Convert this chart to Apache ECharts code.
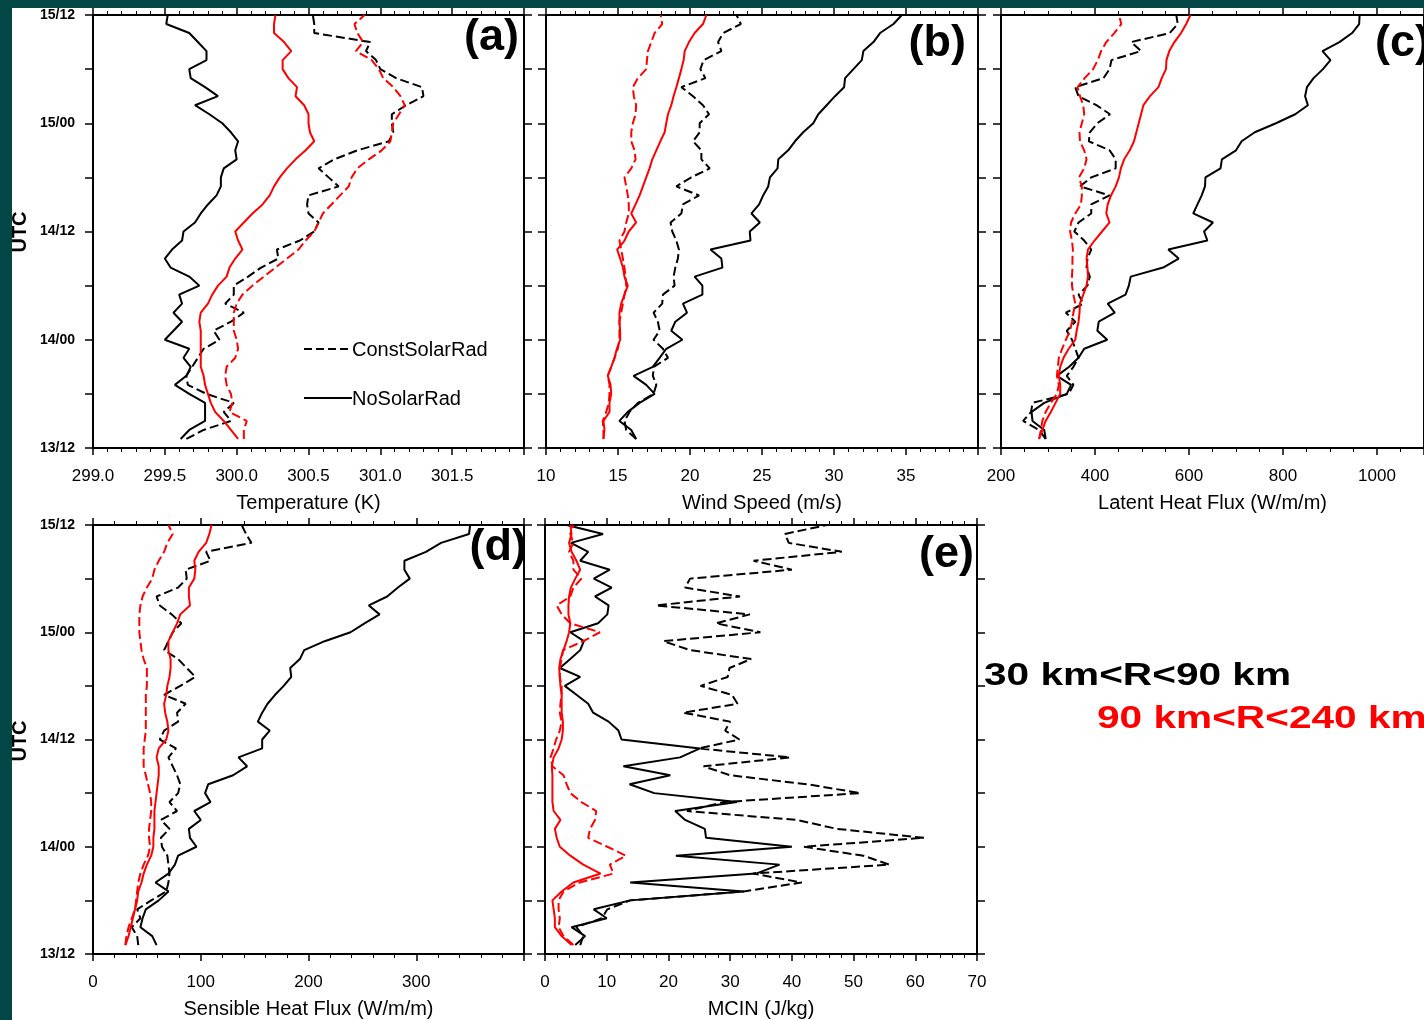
<!DOCTYPE html>
<html>
<head>
<meta charset="utf-8">
<title>Radial-band time series: NoSolarRad vs ConstSolarRad</title>
<script src="https://cdn.jsdelivr.net/npm/echarts@6/dist/echarts.min.js"></script>
<style>
  html, body { margin: 0; padding: 0; background: #ffffff; }
  #chart { width: 1424px; height: 1020px; }
</style>
</head>
<body>
<div id="chart"></div>
<script>
// ---- time axis (hours after 13/12 UTC) ----
const hours = [1, 2, 3, 4, 5, 6, 7, 8, 9, 10, 11, 12, 13, 14, 15, 16, 17, 18, 19, 20, 21, 22, 23, 24,
               25, 26, 27, 28, 29, 30, 31, 32, 33, 34, 35, 36, 37, 38, 39, 40, 41, 42, 43, 44, 45, 46, 47, 48];
const timeTickHours = [0, 12, 24, 36, 48];
const timeTickLabels = ['13/12', '14/00', '14/12', '15/00', '15/12'];

// ---- (a) temperature (K) ----
const tempNoSolar_30_90 = [299.61, 299.67, 299.78, 299.78, 299.78, 299.67, 299.57, 299.65, 299.68, 299.63,
  299.67, 299.50, 299.56, 299.62, 299.56, 299.62, 299.60, 299.74, 299.67, 299.54,
  299.50, 299.55, 299.62, 299.63, 299.71, 299.75, 299.80, 299.86, 299.89, 299.89,
  299.91, 300.00, 299.99, 300.01, 299.96, 299.90, 299.81, 299.71, 299.87, 299.78,
  299.68, 299.67, 299.79, 299.79, 299.73, 299.67, 299.51, 299.52];
const tempConst_30_90 = [299.65, 299.77, 299.96, 299.91, 299.98, 299.79, 299.66, 299.65, 299.69, 299.73,
  299.77, 299.88, 299.84, 299.96, 300.05, 299.92, 299.98, 299.98, 300.08, 300.17,
  300.29, 300.28, 300.44, 300.54, 300.57, 300.50, 300.49, 300.50, 300.71, 300.64,
  300.57, 300.68, 300.84, 301.06, 301.09, 301.08, 301.08, 301.18, 301.30, 301.29,
  301.11, 301.00, 300.97, 300.90, 300.93, 300.54, 300.54, 300.53];
const tempNoSolar_90_240 = [300.01, 299.96, 299.91, 299.85, 299.82, 299.80, 299.78, 299.77, 299.75, 299.75,
  299.75, 299.75, 299.75, 299.74, 299.75, 299.80, 299.83, 299.87, 299.93, 299.95,
  299.99, 300.04, 300.01, 299.99, 300.05, 300.11, 300.18, 300.23, 300.26, 300.30,
  300.35, 300.41, 300.48, 300.54, 300.51, 300.50, 300.50, 300.47, 300.41, 300.42,
  300.36, 300.32, 300.32, 300.38, 300.33, 300.26, 300.26, 300.27];
const tempConst_90_240 = [300.05, 300.05, 300.07, 299.95, 299.97, 299.96, 299.93, 299.92, 299.93, 299.99,
  300.01, 300.00, 299.98, 299.98, 299.98, 300.00, 300.04, 300.11, 300.19, 300.27,
  300.35, 300.43, 300.48, 300.54, 300.57, 300.60, 300.66, 300.72, 300.78, 300.80,
  300.84, 300.92, 301.01, 301.07, 301.08, 301.09, 301.13, 301.17, 301.14, 301.09,
  301.02, 300.99, 300.94, 300.83, 300.88, 300.84, 300.82, 300.89];

// ---- (b) wind speed (m/s) ----
const windNoSolar_30_90 = [16.26, 15.92, 15.10, 15.68, 16.50, 17.54, 16.96, 16.08, 17.42, 17.89,
  18.35, 19.47, 18.70, 18.98, 19.79, 19.51, 20.86, 20.86, 20.32, 22.25,
  22.18, 21.42, 24.20, 24.15, 24.85, 24.27, 24.80, 25.08, 25.43, 25.55,
  26.08, 26.13, 26.82, 27.29, 27.86, 28.56, 28.91, 29.49, 30.07, 30.70,
  30.77, 31.35, 31.93, 32.04, 32.74, 33.20, 34.13, 34.71];
const windConst_30_90 = [16.26, 15.57, 15.45, 15.80, 16.38, 17.47, 17.66, 17.42, 17.49, 18.47,
  18.12, 17.47, 17.89, 17.77, 17.47, 18.07, 18.12, 18.93, 18.86, 18.98,
  19.16, 19.23, 19.05, 18.77, 18.65, 19.40, 19.51, 20.63, 19.05, 20.09,
  21.37, 20.79, 20.79, 20.21, 20.67, 20.67, 21.32, 20.90, 20.21, 19.40,
  21.07, 20.72, 20.95, 22.18, 21.95, 22.30, 23.53, 23.23];
const windNoSolar_90_240 = [13.99, 14.06, 13.99, 14.41, 14.41, 14.53, 14.48, 14.29, 14.53, 14.76,
  14.92, 15.15, 15.15, 15.10, 15.10, 15.22, 15.45, 15.68, 15.45, 15.34,
  15.15, 14.94, 15.45, 15.75, 16.26, 15.92, 16.22, 16.50, 16.73, 16.96,
  17.19, 17.38, 17.66, 17.94, 18.24, 18.35, 18.47, 18.70, 18.86, 19.05,
  19.23, 19.40, 19.56, 19.63, 19.93, 20.32, 20.90, 21.14];
const windConst_90_240 = [13.99, 13.99, 13.94, 14.18, 14.36, 14.41, 14.41, 14.29, 14.53, 14.76,
  14.99, 15.10, 15.10, 15.10, 15.22, 15.34, 15.45, 15.57, 15.52, 15.45,
  15.34, 15.22, 15.10, 15.45, 15.57, 15.75, 15.75, 15.68, 15.57, 15.45,
  15.92, 16.22, 16.15, 15.92, 15.92, 16.03, 16.22, 16.26, 16.10, 16.03,
  16.38, 16.96, 17.01, 17.08, 17.31, 17.54, 18.07, 17.96];

// ---- (c) latent heat flux (W/m/m) ----
const lhfNoSolar_30_90 = [295, 292, 267, 265, 292, 340, 349, 319, 345, 365,
  377, 426, 405, 408, 442, 427, 465, 472, 476, 545,
  578, 556, 639, 632, 651, 609, 618, 627, 634, 635,
  667, 670, 700, 712, 740, 785, 826, 853, 847, 851,
  865, 885, 901, 884, 920, 947, 962, 963];
const lhfConst_30_90 = [295, 281, 247, 264, 267, 344, 354, 340, 354, 365,
  358, 351, 340, 358, 338, 375, 365, 384, 389, 382,
  384, 392, 377, 356, 365, 392, 392, 431, 368, 392,
  444, 444, 431, 387, 389, 405, 432, 403, 365, 358,
  418, 431, 435, 498, 477, 559, 576, 573];
const lhfNoSolar_90_240 = [281, 288, 295, 306, 316, 326, 326, 323, 326, 333,
  344, 358, 361, 365, 367, 368, 375, 382, 385, 384,
  382, 385, 399, 415, 431, 424, 427, 434, 444, 451,
  455, 462, 474, 483, 488, 493, 498, 503, 517, 535,
  542, 551, 552, 558, 569, 583, 594, 603];
const lhfConst_90_240 = [281, 285, 288, 295, 306, 319, 323, 319, 321, 323,
  330, 338, 347, 351, 354, 358, 354, 351, 351, 352,
  352, 353, 351, 347, 349, 358, 370, 372, 372, 366,
  377, 382, 377, 368, 367, 372, 377, 375, 368, 363,
  378, 396, 406, 413, 424, 441, 456, 451];

// ---- (d) sensible heat flux (W/m/m) ----
const shfNoSolar_30_90 = [59, 55, 44, 46, 49, 61, 70, 58, 70, 76,
  79, 96, 90, 89, 100, 94, 109, 104, 107, 130,
  143, 135, 157, 157, 164, 153, 157, 162, 169, 177,
  184, 183, 192, 196, 215, 239, 252, 266, 256, 273,
  283, 294, 289, 289, 309, 323, 349, 350];
const shfConst_30_90 = [42, 41, 36, 44, 41, 54, 68, 70, 71, 70,
  69, 64, 63, 71, 63, 78, 71, 79, 81, 78,
  74, 70, 77, 62, 66, 79, 78, 86, 66, 81,
  95, 87, 79, 66, 70, 74, 82, 73, 62, 59,
  79, 87, 86, 109, 105, 147, 142, 138];
const shfNoSolar_90_240 = [30, 33, 35, 37, 39, 41, 42, 45, 47, 50,
  54, 56, 56, 57, 57, 57, 58, 59, 60, 61,
  61, 59, 61, 68, 70, 69, 67, 66, 68, 69,
  71, 72, 72, 70, 70, 74, 78, 81, 90, 89,
  89, 94, 95, 94, 98, 105, 108, 110];
const shfConst_90_240 = [30, 31, 33, 36, 39, 40, 41, 42, 44, 47,
  51, 53, 52, 52, 53, 54, 54, 53, 51, 49,
  47, 47, 47, 48, 49, 49, 49, 49, 49, 50,
  50, 50, 47, 45, 44, 43, 43, 43, 44, 46,
  50, 55, 57, 61, 66, 69, 74, 70];

// ---- (e) MCIN (J/kg) ----
const mcinNoSolar_30_90 = [4.9, 6.5, 4.3, 10.0, 7.9, 13.8, 32.2, 13.8, 34.2, 38.0,
  21.2, 40.0, 26.1, 25.9, 22.7, 21.1, 31.1, 17.7, 13.7, 20.3,
  12.7, 21.9, 25.1, 12.4, 11.9, 10.3, 7.8, 7.0, 5.1, 3.2,
  5.7, 2.4, 4.1, 5.7, 6.3, 4.1, 8.6, 10.1, 10.3, 8.1,
  10.8, 7.9, 10.5, 5.7, 7.0, 4.2, 9.4, 3.5];
const mcinConst_30_90 = [5.7, 6.2, 5.1, 9.2, 10.1, 13.8, 32.2, 41.6, 33.7, 55.8,
  51.6, 41.9, 61.4, 47.3, 40.8, 23.0, 29.0, 51.1, 42.4, 30.0,
  25.7, 39.7, 24.9, 31.5, 29.2, 30.0, 22.4, 31.2, 30.3, 25.2,
  29.6, 29.9, 33.4, 23.5, 19.2, 34.9, 27.7, 33.2, 18.0, 31.6,
  22.7, 23.5, 40.0, 33.8, 48.1, 39.5, 38.9, 45.7];
const mcinNoSolar_90_240 = [4.3, 2.7, 1.6, 1.6, 1.4, 1.2, 2.7, 4.6, 9.0, 6.2,
  4.1, 2.4, 1.9, 1.6, 2.5, 1.4, 1.2, 1.2, 1.2, 1.2,
  1.1, 1.4, 2.2, 2.7, 2.9, 2.9, 2.7, 2.7, 2.7, 2.5,
  2.4, 2.3, 2.5, 3.0, 3.5, 3.9, 4.1, 3.8, 3.8, 3.9,
  4.2, 4.9, 5.7, 5.1, 4.3, 3.9, 4.3, 4.1];
const mcinConst_90_240 = [4.6, 3.0, 2.2, 2.4, 2.2, 2.2, 3.0, 5.6, 11.1, 10.5,
  13.1, 10.1, 7.0, 7.3, 8.1, 8.3, 5.9, 4.1, 3.5, 3.0,
  1.2, 0.9, 1.4, 1.8, 2.4, 2.7, 2.4, 2.5, 2.7, 2.7,
  2.4, 2.4, 2.7, 2.9, 6.2, 8.9, 4.1, 2.7, 1.9, 4.1,
  4.6, 5.9, 4.6, 4.6, 3.9, 4.6, 4.1, 4.6];

// ---- layout & styling ----
const FONT = '"Liberation Sans", Arial, Helvetica, sans-serif';
const RED = '#ff0000';
const TEAL = '#024746';

const panels = [
  { letter: '(a)', box: { left: 93, top: 15, width: 431, height: 433 }, min: 299, max: 302, interval: 0.5, minorSplit: 5,
    decimals: 1, hideMax: true, title: 'Temperature (K)', timeLabels: true,
    letterPos: [519, 38],
    lines: [tempNoSolar_30_90, tempConst_30_90, tempNoSolar_90_240, tempConst_90_240] },
  { letter: '(b)', box: { left: 546, top: 15, width: 432, height: 433 }, min: 10, max: 40, interval: 5, minorSplit: 5,
    decimals: 0, hideMax: true, title: 'Wind Speed (m/s)', timeLabels: false,
    letterPos: [966, 44],
    lines: [windNoSolar_30_90, windConst_30_90, windNoSolar_90_240, windConst_90_240] },
  { letter: '(c)', box: { left: 1001, top: 15, width: 432, height: 433 }, min: 200, max: 1100, interval: 200, minorSplit: 4,
    decimals: 0, hideMax: true, title: 'Latent Heat Flux (W/m/m)', timeLabels: false,
    letterPos: [1430, 44],
    lines: [lhfNoSolar_30_90, lhfConst_30_90, lhfNoSolar_90_240, lhfConst_90_240] },
  { letter: '(d)', box: { left: 93, top: 525, width: 431, height: 432 }, min: 0, max: 400, interval: 100, minorSplit: 5,
    decimals: 0, hideMax: true, title: 'Sensible Heat Flux (W/m/m)', timeLabels: true,
    letterPos: [527, 548],
    lines: [shfNoSolar_30_90, shfConst_30_90, shfNoSolar_90_240, shfConst_90_240] },
  { letter: '(e)', box: { left: 545, top: 525, width: 432, height: 432 }, min: 0, max: 70, interval: 10, minorSplit: 5,
    decimals: 0, hideMax: false, title: 'MCIN (J/kg)', timeLabels: false,
    letterPos: [974, 555],
    lines: [mcinNoSolar_30_90, mcinConst_30_90, mcinNoSolar_90_240, mcinConst_90_240] }
];

// one style per experiment / radial band
const lineStyles = [
  { name: 'NoSolarRad 30-90 km',     color: '#000000', type: 'solid' },
  { name: 'ConstSolarRad 30-90 km',  color: '#000000', type: [9, 4] },
  { name: 'NoSolarRad 90-240 km',    color: RED,       type: 'solid' },
  { name: 'ConstSolarRad 90-240 km', color: RED,       type: [9, 4] }
];

const axisLineStyle = { color: '#000', width: 2 };

const grids = [], xAxes = [], yAxes = [], series = [];

panels.forEach((p, i) => {
  grids.push(Object.assign({ containLabel: false }, p.box));

  const xCommon = {
    type: 'value', gridIndex: i, min: p.min, max: p.max, interval: p.interval,
    axisLine: { show: true, onZero: false, lineStyle: axisLineStyle },
    axisTick: { show: true, inside: false, length: 7, lineStyle: { color: '#000', width: 1.5 } },
    minorTick: { show: true, splitNumber: p.minorSplit, length: 4, lineStyle: { color: '#000', width: 1 } },
    splitLine: { show: false }, minorSplitLine: { show: false }
  };
  xAxes.push(Object.assign({}, xCommon, {
    position: 'bottom',
    axisLabel: {
      show: true, margin: 20, fontSize: 17, color: '#000', fontFamily: FONT,
      showMaxLabel: !p.hideMax, showMinLabel: true,
      formatter: v => v.toFixed(p.decimals)
    },
    name: p.title, nameLocation: 'middle', nameGap: 45,
    nameTextStyle: { fontSize: 20, color: '#000', fontFamily: FONT }
  }));
  xAxes.push(Object.assign({}, xCommon, { position: 'top', axisLabel: { show: false } }));

  const yCommon = {
    type: 'value', gridIndex: i, min: 0, max: 48, interval: 6,
    axisLine: { show: true, onZero: false, lineStyle: axisLineStyle },
    axisTick: { show: true, inside: false, length: 8, lineStyle: { color: '#000', width: 1.5 } },
    splitLine: { show: false }
  };
  yAxes.push(Object.assign({}, yCommon, {
    position: 'left',
    axisLabel: {
      show: p.timeLabels, margin: 18, fontSize: 14, fontWeight: 'bold', color: '#000', fontFamily: FONT,
      padding: [4, 0, 0, 0],
      formatter: v => {
        const k = timeTickHours.indexOf(v);
        return k >= 0 ? timeTickLabels[k] : '';
      }
    }
  }));
  yAxes.push(Object.assign({}, yCommon, { position: 'right', axisLabel: { show: false } }));

  p.lines.forEach((vals, j) => {
    const st = lineStyles[j];
    series.push({
      type: 'line', name: st.name,
      xAxisIndex: 2 * i, yAxisIndex: 2 * i,
      data: hours.map((h, k) => [vals[k], h]),
      showSymbol: false, symbol: 'none', smooth: false,
      lineStyle: { color: st.color, width: 2, type: st.type },
      itemStyle: { color: st.color },
      emphasis: { disabled: true },
      animation: false, z: 3 + j
    });
  });
});

// panel letters, legend, labels, frame
const graphics = [];

panels.forEach(p => {
  graphics.push({
    type: 'text', x: p.letterPos[0], y: p.letterPos[1], z: 50,
    style: { text: p.letter, font: 'bold 45px ' + FONT, fill: '#000', align: 'right', verticalAlign: 'middle' }
  });
});

// legend inside panel (a)
graphics.push(
  { type: 'line', z: 50, shape: { x1: 304, y1: 349, x2: 352, y2: 349 },
    style: { stroke: '#000', lineWidth: 2, lineDash: [8, 4] } },
  { type: 'text', x: 352, y: 350, z: 50,
    style: { text: 'ConstSolarRad', font: '20px ' + FONT, fill: '#000', align: 'left', verticalAlign: 'middle' } },
  { type: 'line', z: 50, shape: { x1: 304, y1: 398, x2: 352, y2: 398 },
    style: { stroke: '#000', lineWidth: 2 } },
  { type: 'text', x: 352, y: 399, z: 50,
    style: { text: 'NoSolarRad', font: '20px ' + FONT, fill: '#000', align: 'left', verticalAlign: 'middle' } }
);

// slide frame
graphics.push(
  { type: 'rect', z: 100, shape: { x: 0, y: 0, width: 1424, height: 8 }, style: { fill: TEAL } },
  { type: 'rect', z: 100, shape: { x: 0, y: 0, width: 12, height: 1020 }, style: { fill: TEAL } }
);

// vertical "UTC" titles for the left column (read bottom to top)
[232, 741].forEach(cy => {
  graphics.push({
    type: 'text', x: 20, y: cy, rotation: Math.PI / 2, z: 120,
    style: { text: 'UTC', font: 'bold 20px ' + FONT, fill: '#000', align: 'center', verticalAlign: 'middle' }
  });
});

// radial band key
graphics.push(
  { type: 'text', x: 984, y: 676, scaleX: 1.31, z: 50,
    style: { text: '30 km<R<90 km', font: 'bold 31px ' + FONT, fill: '#000', align: 'left', verticalAlign: 'middle' } },
  { type: 'text', x: 1097, y: 719, scaleX: 1.31, z: 50,
    style: { text: '90 km<R<240 km', font: 'bold 31px ' + FONT, fill: RED, align: 'left', verticalAlign: 'middle' } }
);

const chart = echarts.init(document.getElementById('chart'), null, { renderer: 'canvas' });
chart.setOption({
  backgroundColor: '#ffffff',
  animation: false,
  textStyle: { fontFamily: FONT },
  grid: grids,
  xAxis: xAxes,
  yAxis: yAxes,
  series: series,
  graphic: graphics
});
</script>
</body>
</html>
